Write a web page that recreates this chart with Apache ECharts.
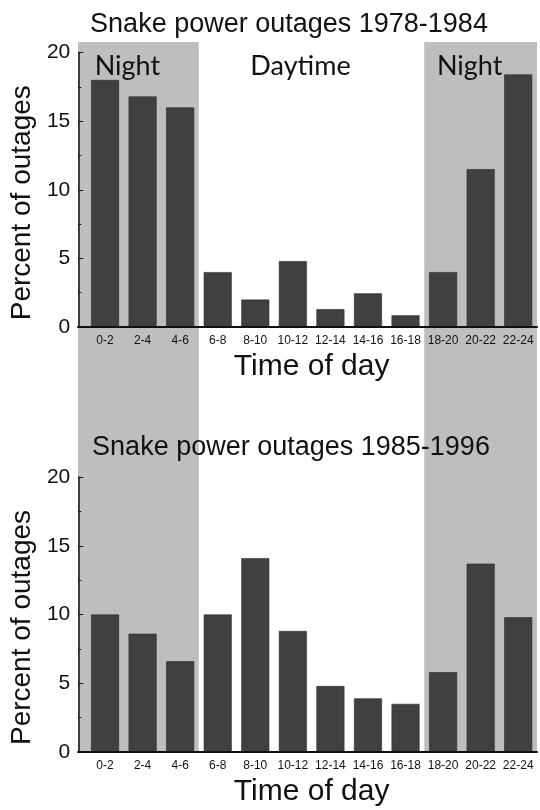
<!DOCTYPE html>
<html>
<head>
<meta charset="utf-8">
<script src="https://cdn.jsdelivr.net/npm/echarts@6/dist/echarts.min.js"></script>
<style>
  html, body { margin: 0; padding: 0; background: #fff; }
  #chart { width: 540px; height: 810px; }
</style>
</head>
<body>
<div id="chart"></div>
<script>
// two-hour slots of the day
const timeSlots = ['0-2', '2-4', '4-6', '6-8', '8-10', '10-12', '12-14', '14-16', '16-18', '18-20', '20-22', '22-24'];
// percent of outages per slot
const outages7884 = [18.0, 16.8, 16.0, 4.0, 2.0, 4.8, 1.3, 2.45, 0.85, 4.0, 11.5, 18.4];
const outages8596 = [10.0, 8.6, 6.6, 10.0, 14.1, 8.8, 4.8, 3.9, 3.5, 5.8, 13.7, 9.8];
// night / day periods, in slot index units
const periodNames = ['Night', 'Daytime', 'Night'];
const periodFrom = [0, 3, 9];
const periodTo = [3, 9, 12];
const periodShaded = [1, 0, 1];

const FONT = 'Liberation Sans, Arial, sans-serif';
const chart = echarts.init(document.getElementById('chart'));

function yAxisFor(gridIndex) {
  return {
    gridIndex: gridIndex,
    type: 'value',
    min: 0, max: 20, interval: 5,
    offset: 8,
    z: 5,
    name: 'Percent of outages',
    nameLocation: 'middle',
    nameGap: 42,
    nameTextStyle: { fontSize: 28, color: '#111', fontFamily: FONT, padding: [0, 26, 0, 0] },
    axisLine: { show: true, lineStyle: { color: '#111', width: 1.5 } },
    axisTick: { show: true, inside: true, length: 5, lineStyle: { color: '#111' } },
    minorTick: { show: true, splitNumber: 2, length: 3, lineStyle: { color: '#111' } },
    splitLine: { show: false },
    axisLabel: { fontSize: 21, margin: 8, color: '#111', fontFamily: FONT }
  };
}

function xAxisFor(gridIndex) {
  return {
    gridIndex: gridIndex,
    type: 'category',
    data: timeSlots,
    z: 5,
    name: 'Time of day',
    nameLocation: 'middle',
    nameGap: 25,
    nameTextStyle: { fontSize: 30, color: '#111', fontFamily: FONT, verticalAlign: 'top' },
    axisLine: { show: false },
    axisTick: { inside: true, alignWithLabel: true, length: 4, lineStyle: { color: '#777' } },
    axisLabel: { interval: 0, fontSize: 12, margin: 8, color: '#111', fontFamily: FONT }
  };
}

// value axis of a shading grid; its line is the long baseline from the y axis on
function bandAxis(gridIndex) {
  return {
    gridIndex: gridIndex, type: 'value', min: -0.213, max: 12, z: 5,
    axisLine: { show: true, onZero: false, lineStyle: { color: '#111', width: 2 } },
    axisTick: { show: false }, axisLabel: { show: false }, splitLine: { show: false }
  };
}

function bandSeries(axisIndex, withLabels) {
  return {
    type: 'custom',
    xAxisIndex: axisIndex, yAxisIndex: axisIndex,
    z: 0,
    silent: true,
    data: periodNames.map((n, i) => [periodFrom[i], periodTo[i], periodShaded[i]]),
    renderItem(params, api) {
      const cs = params.coordSys;
      const from = api.value(0);
      let x0 = api.coord([from, 0])[0];
      if (from === 0) x0 = cs.x; // shading starts at the y axis
      const x1 = Math.min(api.coord([api.value(1), 0])[0], cs.x + cs.width);
      const children = [];
      if (api.value(2)) {
        children.push({
          type: 'rect',
          shape: { x: x0, y: cs.y, width: x1 - x0, height: cs.height },
          style: { fill: '#bebebe' }
        });
      }
      if (withLabels) {
        children.push({
          type: 'text',
          style: {
            text: periodNames[params.dataIndex],
            x: (x0 + x1) / 2 - 11, y: cs.y + 24,
            align: 'center', verticalAlign: 'middle',
            fontSize: 27, fontFamily: 'Lato', fill: '#111'
          }
        });
      }
      return { type: 'group', children: children };
    }
  };
}

const titleStyle = { fontSize: 27, fontWeight: 'normal', color: '#111', fontFamily: FONT };

chart.setOption({
  animation: false,
  title: [
    { text: 'Snake power outages 1978-1984', left: 284, top: 6, textAlign: 'center', textStyle: titleStyle },
    { text: 'Snake power outages 1985-1996', left: 286, top: 429, textAlign: 'center', textStyle: titleStyle }
  ],
  grid: [
    { left: 86, right: 3, top: 52.5, height: 274.5 },
    { left: 86, right: 3, top: 477, height: 275 },
    // shading behind the upper chart, and from its baseline down to the lower baseline
    { left: 78, right: 3, top: 42, height: 285 },
    { left: 78, right: 3, top: 327, height: 425 }
  ],
  xAxis: [xAxisFor(0), xAxisFor(1), bandAxis(2), bandAxis(3)],
  yAxis: [
    yAxisFor(0),
    yAxisFor(1),
    { gridIndex: 2, type: 'value', min: 0, max: 1, show: false },
    { gridIndex: 3, type: 'value', min: 0, max: 1, show: false }
  ],
  series: [
    bandSeries(2, true),
    bandSeries(3, false),
    {
      type: 'bar',
      xAxisIndex: 0, yAxisIndex: 0,
      z: 2,
      barWidth: 28,
      itemStyle: { color: '#404040', borderColor: '#2c2c2c', borderWidth: 0.6 },
      data: outages7884
    },
    {
      type: 'bar',
      xAxisIndex: 1, yAxisIndex: 1,
      z: 2,
      barWidth: 28,
      itemStyle: { color: '#404040', borderColor: '#2c2c2c', borderWidth: 0.6 },
      data: outages8596
    }
  ]
});
</script>
</body>
</html>
